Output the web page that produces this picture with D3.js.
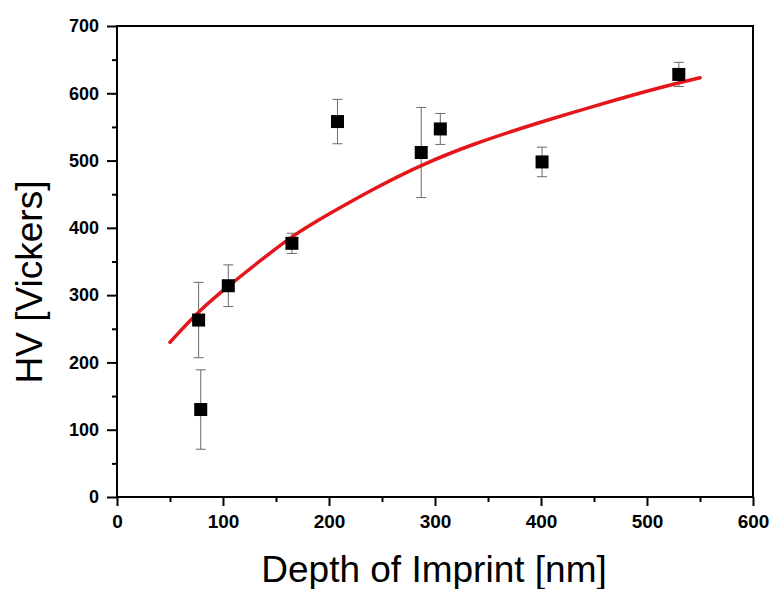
<!DOCTYPE html>
<html lang="en">
<head>
    <meta charset="utf-8">
    <title>HV vs Depth of Imprint</title>
    <script src="https://cdn.jsdelivr.net/npm/d3@7"></script>
    <style>
        body { margin: 0; background: #fff; }
        .tick text { font-family: "Liberation Sans", Arial, sans-serif; font-weight: bold; fill: #000; }
        .title { font-family: "Liberation Sans", Arial, sans-serif; fill: #000; }
    </style>
</head>
<body>
    <div id="chart"></div>
    <script>
        // measured points
        const depth = [77, 79, 105, 165, 208, 287, 305, 401, 530];
        const hv = [263, 130, 314, 377, 558, 512, 547, 498, 628];
        const hvErr = [56, 59, 31, 15, 33, 67, 23, 22, 18];

        // fitted curve
        const fitDepth = [50, 78, 107, 135, 166, 198, 242, 286, 336, 399, 452, 515, 550];
        const fitHV = [230, 278, 316, 351, 389, 419, 458, 493, 525, 557, 582, 610, 623];

        const xTicks = [0, 100, 200, 300, 400, 500, 600];
        const yTicks = [0, 100, 200, 300, 400, 500, 600, 700];

        const width = 772, height = 589;
        const plotL = 117, plotR = 753, plotT = 26, plotB = 497;

        const x = d3.scaleLinear().domain([0, 600]).range([plotL, plotR]);
        const y = d3.scaleLinear().domain([0, 700]).range([plotB, plotT]);

        const svg = d3.select("#chart").append("svg")
            .attr("width", width)
            .attr("height", height);

        // frame
        svg.append("rect")
            .attr("x", plotL).attr("y", plotT)
            .attr("width", plotR - plotL).attr("height", plotB - plotT)
            .attr("fill", "none").attr("stroke", "#000").attr("stroke-width", 2);

        // minor ticks
        svg.append("g")
            .attr("transform", `translate(0,${plotB})`)
            .call(d3.axisBottom(x).tickValues(d3.range(50, 600, 100)).tickSize(5).tickFormat(""))
            .call(g => g.select(".domain").remove())
            .selectAll("line").attr("stroke-width", 2);
        svg.append("g")
            .attr("transform", `translate(${plotL},0)`)
            .call(d3.axisLeft(y).tickValues(d3.range(50, 700, 100)).tickSize(5).tickFormat(""))
            .call(g => g.select(".domain").remove())
            .selectAll("line").attr("stroke-width", 2);

        // major ticks + labels
        const xAxis = svg.append("g")
            .attr("transform", `translate(0,${plotB})`)
            .call(d3.axisBottom(x).tickValues(xTicks).tickSize(9).tickPadding(9));
        xAxis.select(".domain").remove();
        xAxis.selectAll("line").attr("stroke-width", 2);
        xAxis.selectAll("text").style("font-size", "19px");

        const yAxis = svg.append("g")
            .attr("transform", `translate(${plotL},0)`)
            .call(d3.axisLeft(y).tickValues(yTicks).tickSize(10).tickPadding(8));
        yAxis.select(".domain").remove();
        yAxis.selectAll("line").attr("stroke-width", 2);
        yAxis.selectAll("text").style("font-size", "18px");

        // error bars
        const pts = depth.map((d, i) => ({ d: d, v: hv[i], e: hvErr[i] }));
        const eb = svg.append("g").attr("stroke", "#6a6a6a").attr("stroke-width", 1);
        eb.selectAll("line.v").data(pts).enter().append("line")
            .attr("x1", p => x(p.d)).attr("x2", p => x(p.d))
            .attr("y1", p => y(p.v + p.e)).attr("y2", p => y(p.v - p.e));
        eb.selectAll("line.t").data(pts).enter().append("line")
            .attr("x1", p => x(p.d) - 5).attr("x2", p => x(p.d) + 5)
            .attr("y1", p => y(p.v + p.e)).attr("y2", p => y(p.v + p.e));
        eb.selectAll("line.b").data(pts).enter().append("line")
            .attr("x1", p => x(p.d) - 5).attr("x2", p => x(p.d) + 5)
            .attr("y1", p => y(p.v - p.e)).attr("y2", p => y(p.v - p.e));

        // fit line
        const line = d3.line()
            .x(d => x(d))
            .y((d, i) => y(fitHV[i]))
            .curve(d3.curveBasis);
        svg.append("path")
            .attr("d", line(fitDepth))
            .attr("fill", "none")
            .attr("stroke", "#e4161c")
            .attr("stroke-width", 3.5)
            .attr("stroke-linecap", "round");

        // markers
        svg.append("g").selectAll("rect").data(pts).enter().append("rect")
            .attr("x", p => x(p.d) - 6.5)
            .attr("y", p => y(p.v) - 6.5)
            .attr("width", 13).attr("height", 13)
            .attr("fill", "#000");

        // titles
        svg.append("text").attr("class", "title")
            .attr("x", 434).attr("y", 582)
            .attr("text-anchor", "middle")
            .style("font-size", "37px")
            .text("Depth of Imprint [nm]");
        svg.append("text").attr("class", "title")
            .attr("transform", "translate(42,282) rotate(-90)")
            .attr("text-anchor", "middle")
            .style("font-size", "37px")
            .text("HV [Vickers]");
    </script>
</body>
</html>
